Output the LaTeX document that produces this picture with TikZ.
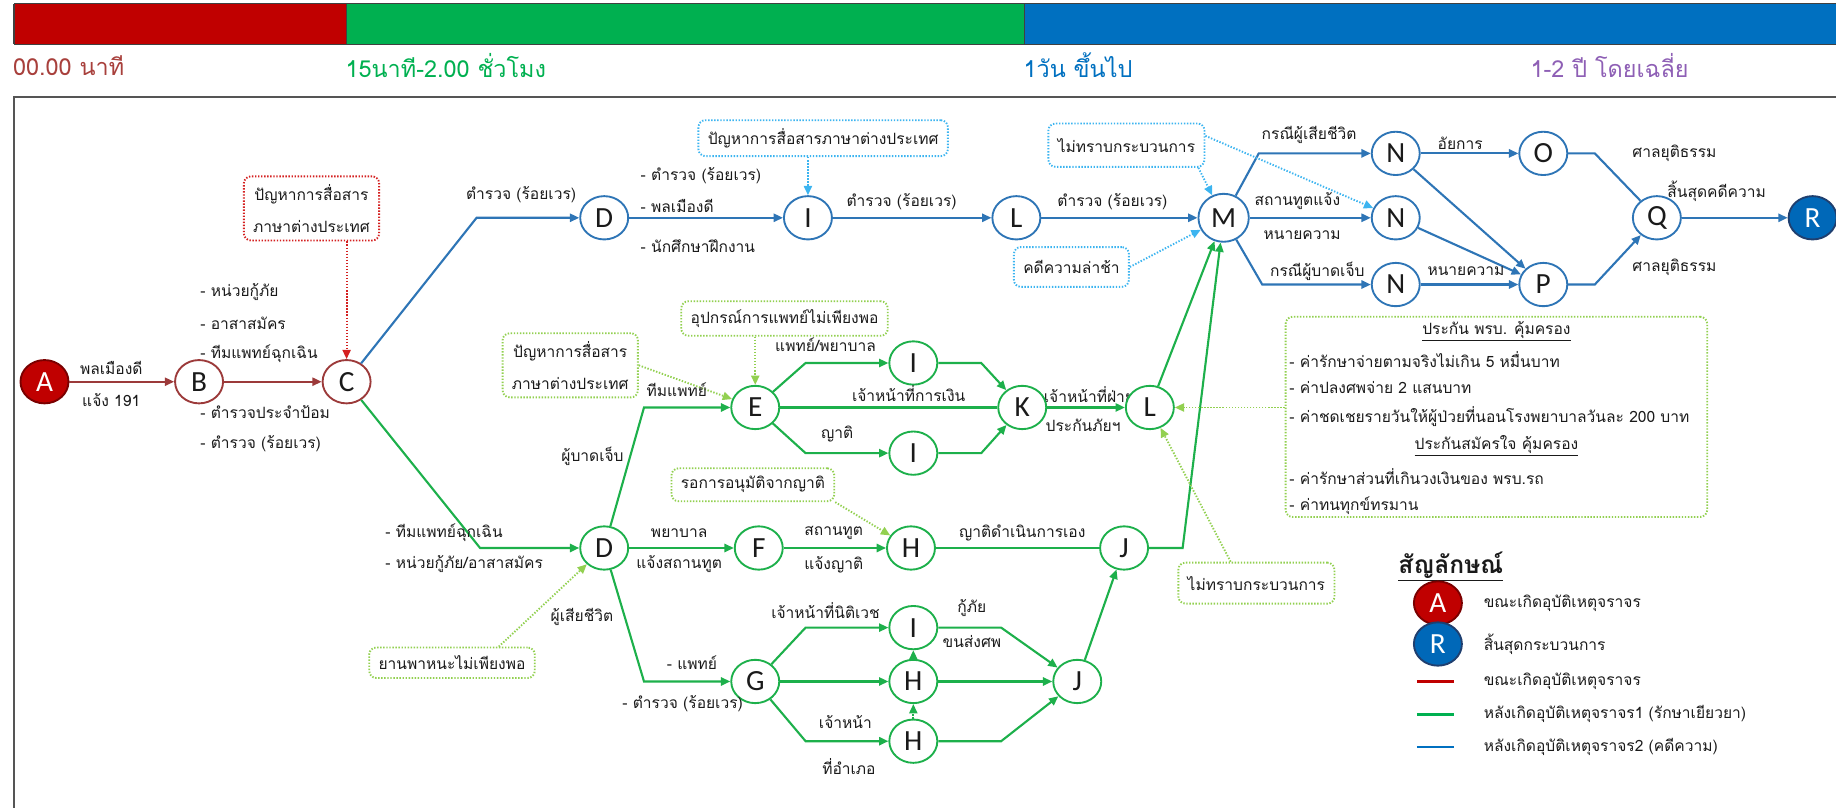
\documentclass[tikz,border=0pt]{standalone}
\usepackage{fontspec}
\setmainfont[Script=Thai]{Loma}
\newfontfamily\latinfont{Carlito}
\usetikzlibrary{arrows.meta,shapes.geometric}

\definecolor{redline}{HTML}{9C3A3A}
\definecolor{redfill}{HTML}{C00000}
\definecolor{reddark}{HTML}{7A0000}
\definecolor{blueline}{HTML}{2E75B6}
\definecolor{bluefill}{HTML}{0068B8}
\definecolor{bluedark}{HTML}{1F3F6F}
\definecolor{greenline}{HTML}{1DB04B}
\definecolor{dotgreen}{HTML}{92D050}
\definecolor{dotblue}{HTML}{3CB4F0}
\definecolor{dotred}{HTML}{D42020}
\definecolor{barred}{HTML}{C00000}
\definecolor{bargreen}{HTML}{00B050}
\definecolor{barblue}{HTML}{0070C0}
\definecolor{tred}{HTML}{A8403C}
\definecolor{tpurple}{HTML}{8E5FB5}
\definecolor{txt}{HTML}{1A1A1A}
\definecolor{framecol}{HTML}{555555}

\tikzset{
  stage/.style={ellipse, draw, line width=1.6pt, fill=white, minimum width=41pt,
    minimum height=37pt, inner sep=0pt, text=txt,
    font=\latinfont\fontsize{25}{25}\selectfont},
  rednode/.style={stage, draw=redline},
  bluenode/.style={stage, draw=blueline},
  greennode/.style={stage, draw=greenline},
  startnode/.style={stage, fill=redfill, draw=reddark, text=white},
  endnode/.style={stage, fill=bluefill, draw=bluedark, text=white},
  lbl/.style={font=\fontsize{13.3}{15}\selectfont, text=txt, inner sep=1pt},
  timelbl/.style={font=\fontsize{20}{22}\selectfont, inner sep=1pt, anchor=west},
  notebox/.style={rounded corners=6pt, line width=1.6pt, dash pattern=on 1.2pt off 1.4pt,
    font=\fontsize{13.3}{27}\selectfont, text=txt, inner xsep=8pt, inner ysep=7pt, align=center},
  rbox/.style={notebox, draw=dotred},
  bbox/.style={notebox, draw=dotblue},
  gbox/.style={notebox, draw=dotgreen},
  tip/.style={-{Triangle[length=8pt,width=7pt]}},
  redarr/.style={draw=redline, line width=1.8pt, tip},
  bluearr/.style={draw=blueline, line width=1.8pt, tip},
  blueplain/.style={draw=blueline, line width=1.8pt},
  greenarr/.style={draw=greenline, line width=1.8pt, tip},
  greenplain/.style={draw=greenline, line width=1.8pt},
  rdotarr/.style={draw=dotred, line width=1.6pt, dash pattern=on 1.2pt off 1.4pt, tip},
  bdotarr/.style={draw=dotblue, line width=1.6pt, dash pattern=on 1.2pt off 1.4pt, tip},
  gdotarr/.style={draw=dotgreen, line width=1.6pt, dash pattern=on 1.2pt off 1.4pt, tip},
  gdotarrg/.style={draw=greenline, line width=1.6pt, dash pattern=on 1.2pt off 1.4pt, tip},
}

\begin{document}
\begin{tikzpicture}[x=1pt,y=-1pt]
\useasboundingbox (0,0) rectangle (1568,690);

% ---- time bar ----
\fill[barred] (12,3) rectangle (296,38);
\fill[bargreen] (296,3) rectangle (875,38);
\fill[barblue] (875,3) rectangle (1568,38);
\draw[line width=1pt, black!75] (12,3) -- (1568,3) (12,38) -- (1568,38)
  (12,3) -- (12,38) (296,3) -- (296,38) (875,3) -- (875,38);
\node[timelbl, text=tred] (t0) at (10,56) {00.00 นาที};
\node[timelbl, text=bargreen] (t1) at (294,56) {15นาที-2.00 ชั่วโมง};
\node[timelbl, text=barblue] (t2) at (873,56) {1วัน ขึ้นไป};
\node[timelbl, text=tpurple] (t3) at (1306,56) {1-2 ปี โดยเฉลี่ย};

% ---- frame ----
\draw[framecol, line width=1.5pt] (12,690) -- (12,83) -- (1568,83);

% ---- label partly covered by node L ----
\node[lbl] (kl1) at (930,337) {เจ้าหน้าที่ฝ่าย};
\node[lbl] (kl2) at (925,363) {ประกันภัยฯ};

% ---- accident stage ----
\node[startnode] (A) at (38,326) {A};
\node[rednode] (B) at (170,326) {B};
\node[rednode] (C) at (296,326) {C};

% ---- legal track ----
\node[bluenode] (D) at (516,186) {D};
\node[bluenode] (I) at (690,186) {I};
\node[bluenode] (L) at (868,186) {L};
\node[bluenode, minimum width=43pt, minimum height=41pt] (M) at (1045,186) {M};
\node[bluenode] (N1) at (1192,131) {N};
\node[bluenode] (N2) at (1192,186) {N};
\node[bluenode] (N3) at (1192,243) {N};
\node[bluenode] (O) at (1318,131) {O};
\node[bluenode] (P) at (1318,243) {P};
\node[bluenode] (Q) at (1415,186) {Q};
\node[endnode] (R) at (1548,186) {R};

% ---- treatment track ----
\node[greennode] (E) at (645,348) {E};
\node[greennode] (I1) at (780,310) {I};
\node[greennode] (I2) at (780,387) {I};
\node[greennode] (K) at (873,348) {K};
\node[greennode] (Lg) at (982,348) {L};
\node[greennode] (Dg) at (516,468) {D};
\node[greennode] (F) at (648,468) {F};
\node[greennode] (H1) at (778,468) {H};
\node[greennode] (J1) at (960,468) {J};
\node[greennode] (G) at (645,582) {G};
\node[greennode] (I3) at (780,536) {I};
\node[greennode] (H2) at (780,582) {H};
\node[greennode] (H3) at (780,633) {H};
\node[greennode] (J2) at (920,582) {J};

% ---- bend points ----
\coordinate (cb) at (407,186);
\coordinate (mb1) at (1075,131);
\coordinate (mb3) at (1078,243);
\coordinate (ob) at (1362,131);
\coordinate (pb) at (1362,243);
\coordinate (cg) at (410,468);
\coordinate (de) at (550,348);
\coordinate (dg) at (550,582);
\coordinate (jm) at (1010,468);
\coordinate (ei1) at (688,310);
\coordinate (ei2) at (688,387);
\coordinate (ik1) at (838,310);
\coordinate (ik2) at (838,387);
\coordinate (gi) at (688,536);
\coordinate (gh) at (688,633);
\coordinate (ij) at (855,536);
\coordinate (hj) at (855,633);

% ---- accident connectors ----
\draw[redarr] (A) -- (B);
\draw[redarr] (B) -- (C);

% ---- legal connectors ----
\draw[bluearr] (C) -- (cb) -- (D);
\draw[bluearr] (D) -- (I);
\draw[bluearr] (I) -- (L);
\draw[bluearr] (L) -- (M);
\draw[bluearr] (M) -- (mb1) -- (N1);
\draw[bluearr] (M) -- (N2);
\draw[bluearr] (M) -- (mb3) -- (N3);
\draw[bluearr] (N1) -- (O);
\draw[bluearr] (N1) -- (P);
\draw[bluearr] (N2) -- (P);
\draw[bluearr] (N3) -- (P);
\draw[blueplain] (O) -- (ob) -- (Q);
\draw[bluearr] (P) -- (pb) -- (Q);
\draw[bluearr] (Q) -- (R);

% ---- treatment connectors ----
\draw[greenarr] (C) -- (cg) -- (Dg);
\draw[greenarr] (Dg) -- (de) -- (E);
\draw[greenarr] (Dg) -- (dg) -- (G);
\draw[greenarr] (Dg) -- (F);
\draw[greenarr] (F) -- (H1);
\draw[greenplain] (H1) -- (J1);
\draw[greenarr] (J1) -- (jm) -- (M);
\draw[greenarr] (Lg) -- (M);
\draw[greenarr] (E) -- (ei1) -- (I1);
\draw[greenplain] (E) -- (K);
\draw[greenarr] (E) -- (ei2) -- (I2);
\draw[greenarr] (I1) -- (ik1) -- (K);
\draw[greenarr] (I2) -- (ik2) -- (K);
\draw[greenarr] (K) -- (Lg);
\draw[greenarr] (G) -- (gi) -- (I3);
\draw[greenarr] (G) -- (H2);
\draw[greenarr] (G) -- (gh) -- (H3);
\draw[gdotarrg] (H2) -- (I3);
\draw[gdotarrg] (H3) -- (H2);
\draw[greenarr] (I3) -- (ij) -- (J2);
\draw[greenarr] (H2) -- (J2);
\draw[greenarr] (H3) -- (hj) -- (J2);
\draw[greenarr] (J2) -- (J1);

% ---- problem notes ----
\node[rbox] (rx) at (266,178) {ปัญหาการสื่อสาร\\ภาษาต่างประเทศ};
\draw[rdotarr] (rx.south -| C) -- (C);

\node[bbox] (bx1) at (703,118) {ปัญหาการสื่อสารภาษาต่างประเทศ};
\draw[bdotarr] (bx1.south -| I) -- (I);
\node[bbox, minimum height=37pt] (bx2) at (962,124) {ไม่ทราบกระบวนการ};
\draw[bdotarr] ([xshift=-6pt]bx2.south east) -- (M);
\draw[bdotarr] ([yshift=8pt]bx2.east) -- (N2);
\node[bbox, minimum height=34pt] (bx3) at (915,228) {คดีความล่าช้า};
\draw[bdotarr] (bx3.east) -- (M);

\node[gbox] (gx1) at (487,312) {ปัญหาการสื่อสาร\\ภาษาต่างประเทศ};
\draw[gdotarr] (gx1.east) -- (E);
\node[gbox] (gx2) at (670,272) {อุปกรณ์การแพทย์ไม่เพียงพอ};
\draw[gdotarr] (gx2.south -| E) -- (E);
\node[gbox] (gx3) at (643,414) {รอการอนุมัติจากญาติ};
\draw[gdotarr] (gx3.south east) -- (H1);
\node[gbox] (gx4) at (386,566) {ยานพาหนะไม่เพียงพอ};
\draw[gdotarr] ([xshift=40pt]gx4.north) -- (Dg);
\node[gbox, minimum height=35pt] (gx5) at (1073,498) {ไม่ทราบกระบวนการ};
\draw[gdotarr] ([xshift=-22pt]gx5.north) -- (Lg);

% ---- insurance note ----
\node[gbox, minimum width=360pt, minimum height=171pt] (ins) at (1278,356) {};
\draw[gdotarr] (ins.west |- Lg) -- (Lg);
\node[lbl] (in1) at (1278,283) {\underline{ประกัน พรบ. คุ้มครอง}};
\node[lbl, anchor=west] (in2) at (1100,307) {- ค่ารักษาจ่ายตามจริงไม่เกิน 5 หมื่นบาท};
\node[lbl, anchor=west] (in3) at (1100,331) {- ค่าปลงศพจ่าย 2 แสนบาท};
\node[lbl, anchor=west] (in4) at (1100,356) {- ค่าชดเชยรายวันให้ผู้ป่วยที่นอนโรงพยาบาลวันละ 200 บาท};
\node[lbl] (in5) at (1278,381) {\underline{ประกันสมัครใจ คุ้มครอง}};
\node[lbl, anchor=west] (in6) at (1100,407) {- ค่ารักษาส่วนที่เกินวงเงินของ พรบ.รถ};
\node[lbl, anchor=west] (in7) at (1100,432) {- ค่าทนทุกข์ทรมาน};

% ---- connector labels: accident ----
\node[lbl] (la1) at (95,314) {พลเมืองดี};
\node[lbl] (la2) at (95,342) {แจ้ง 191};
\node[lbl, anchor=west] (lb1) at (170,249) {- หน่วยกู้ภัย};
\node[lbl, anchor=west] (lb2) at (170,276) {- อาสาสมัคร};
\node[lbl, anchor=west] (lb3) at (170,302) {- ทีมแพทย์ฉุกเฉิน};
\node[lbl, anchor=west] (lb4) at (170,352) {- ตำรวจประจำป้อม};
\node[lbl, anchor=west] (lb5) at (170,379) {- ตำรวจ (ร้อยเวร)};

% ---- connector labels: legal ----
\node[lbl] (lc1) at (445,166) {ตำรวจ (ร้อยเวร)};
\node[lbl, anchor=west] (ld1) at (546,150) {- ตำรวจ (ร้อยเวร)};
\node[lbl, anchor=west] (ld2) at (546,176) {- พลเมืองดี};
\node[lbl, anchor=west] (ld3) at (546,210) {- นักศึกษาฝึกงาน};
\node[lbl] (li1) at (770,172) {ตำรวจ (ร้อยเวร)};
\node[lbl] (ll1) at (950,172) {ตำรวจ (ร้อยเวร)};
\node[lbl] (lm1) at (1118,115) {กรณีผู้เสียชีวิต};
\node[lbl] (lm2) at (1108,172) {สถานทูตแจ้ง};
\node[lbl] (lm3) at (1112,201) {หนายความ};
\node[lbl] (lm4) at (1125,232) {กรณีผู้บาดเจ็บ};
\node[lbl] (ln1) at (1247,122) {อัยการ};
\node[lbl] (ln3) at (1252,232) {หนายความ};
\node[lbl] (lo1) at (1430,131) {ศาลยุติธรรม};
\node[lbl] (lp1) at (1430,228) {ศาลยุติธรรม};
\node[lbl] (lq1) at (1466,163) {สิ้นสุดคดีความ};

% ---- connector labels: treatment ----
\node[lbl, anchor=west] (lg1) at (328,455) {- ทีมแพทย์ฉุกเฉิน};
\node[lbl, anchor=west] (lg2) at (328,482) {- หน่วยกู้ภัย/อาสาสมัคร};
\node[lbl] (le1) at (578,333) {ทีมแพทย์};
\node[lbl] (le2) at (506,390) {ผู้บาดเจ็บ};
\node[lbl] (le3) at (497,527) {ผู้เสียชีวิต};
\node[lbl] (le4) at (591,566) {- แพทย์};
\node[lbl] (le5) at (583,601) {- ตำรวจ (ร้อยเวร)};
\node[lbl] (lf1) at (580,455) {พยาบาล};
\node[lbl] (lf2) at (580,482) {แจ้งสถานทูต};
\node[lbl] (lh1) at (712,455) {สถานทูต};
\node[lbl] (lh2) at (712,482) {แจ้งญาติ};
\node[lbl] (lj1) at (873,455) {ญาติดำเนินการเอง};
\node[lbl] (lk1) at (705,294) {แพทย์/พยาบาล};
\node[lbl] (lk2) at (776,336) {เจ้าหน้าที่การเงิน};
\node[lbl] (lk3) at (715,371) {ญาติ};
\node[lbl] (lx1) at (705,521) {เจ้าหน้าที่นิติเวช};
\node[lbl] (lx2) at (830,519) {กู้ภัย};
\node[lbl] (lx3) at (830,548) {ขนส่งศพ};
\node[lbl] (lx4) at (722,617) {เจ้าหน้า};
\node[lbl] (lx5) at (725,655) {ที่อำเภอ};

% ---- legend ----
\node[anchor=west, inner sep=1pt, text=txt, font=\bfseries\fontsize{21}{24}\selectfont] (legt) at (1193,484) {\underline{สัญลักษณ์}};
\node[startnode] (legA) at (1228,515) {A};
\node[endnode] (legR) at (1228,550) {R};
\draw[redfill, line width=2.2pt] (1210,582) -- (1242,582);
\draw[bargreen, line width=2.2pt] (1210,610) -- (1242,610);
\draw[barblue, line width=2.2pt] (1210,638) -- (1242,638);
\node[lbl, anchor=west] (lg_a) at (1266,515) {ขณะเกิดอุบัติเหตุจราจร};
\node[lbl, anchor=west] (lg_r) at (1266,550) {สิ้นสุดกระบวนการ};
\node[lbl, anchor=west] (lg_1) at (1266,582) {ขณะเกิดอุบัติเหตุจราจร};
\node[lbl, anchor=west] (lg_2) at (1266,610) {หลังเกิดอุบัติเหตุจราจร1 (รักษาเยียวยา)};
\node[lbl, anchor=west] (lg_3) at (1266,638) {หลังเกิดอุบัติเหตุจราจร2 (คดีความ)};
\end{tikzpicture}
\end{document}
